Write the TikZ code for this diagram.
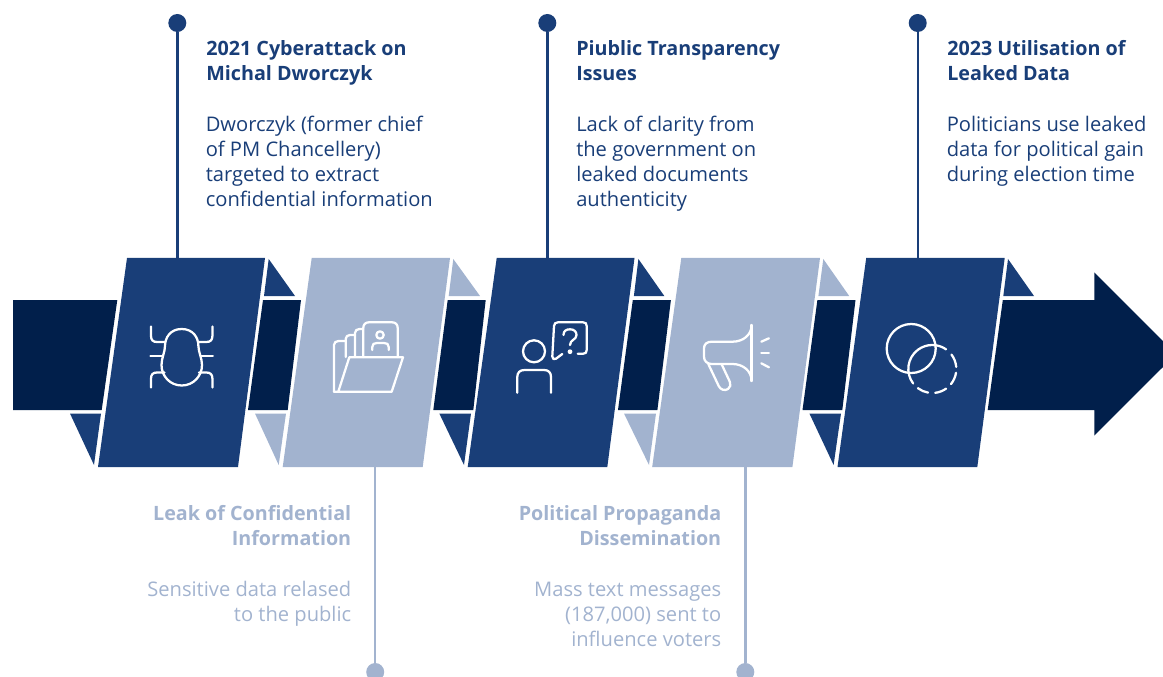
\documentclass[tikz,border=0pt]{standalone}
\usepackage{fontspec}
\setmainfont{Open Sans}
\definecolor{blueA}{HTML}{193E78}
\definecolor{navyA}{HTML}{011F4B}
\definecolor{lightA}{HTML}{A2B3CF}
\tikzset{
  panelA/.style={fill=blueA,draw=none},
  panelB/.style={fill=lightA,draw=none},
  bandA/.style={fill=navyA,draw=none},
  icon/.style={draw=white,line width=1.7pt,line cap=round,line join=round},
  dotA/.style={circle,fill=blueA,minimum size=13.5pt,inner sep=0pt},
  dotB/.style={circle,fill=lightA,minimum size=13.5pt,inner sep=0pt},
  stemA/.style={draw=blueA,line width=1.8pt},
  stemB/.style={draw=lightA,line width=1.8pt},
  txt/.style={inner sep=0pt,font=\fontsize{15.1}{18.75}\selectfont},
  headA/.style={txt,anchor=north west,align=left,text=blueA,font=\fontsize{14.8}{18.75}\selectfont\bfseries},
  bodyA/.style={txt,anchor=north west,align=left,text=blueA},
  headB/.style={txt,anchor=north east,align=right,text=lightA,font=\fontsize{14.8}{18.75}\selectfont\bfseries},
  bodyB/.style={txt,anchor=north east,align=right,text=lightA}
}
\begin{document}
\begin{tikzpicture}[x=0.75pt,y=-0.75pt]
\useasboundingbox (0,0) rectangle (1163,677);
\clip (0,0) rectangle (1163,677);
% stems and dots
\node[dotA] (d1) at (177.3,23) {};
\node[dotA] (d3) at (547.3,23) {};
\node[dotA] (d5) at (917.7,23) {};
\node[dotB] (d2) at (375.2,672) {};
\node[dotB] (d4) at (745.3,672) {};
\coordinate (p1) at (177.3,259);
\coordinate (p3) at (547.3,259);
\coordinate (p5) at (917.7,259);
\coordinate (p2) at (375.2,466);
\coordinate (p4) at (745.3,466);
\draw[stemA] (d1) -- (p1);
\draw[stemA] (d3) -- (p3);
\draw[stemA] (d5) -- (p5);
\draw[stemB] (d2) -- (p2);
\draw[stemB] (d4) -- (p4);
% bands
\fill[bandA] (13,300) -- (117.3,300) -- (101.7,410) -- (13,410) -- cycle;
\fill[bandA] (263,300) -- (301,300) -- (287.7,410) -- (248,410) -- cycle;
\fill[bandA] (447.7,300) -- (485.7,300) -- (473.3,410) -- (433.3,410) -- cycle;
\fill[bandA] (632.8,300) -- (670.9,300) -- (657.4,410) -- (618,410) -- cycle;
\fill[bandA] (817.4,300) -- (855.5,300) -- (842.3,410) -- (802.5,410) -- cycle;
\fill[bandA] (1002.8,300) -- (1094.4,300) -- (1094.4,272.5) -- (1176,354) -- (1094.4,435.5) -- (1094.4,410) -- (987.7,410) -- cycle;
% top triangles
\fill[panelA] (268.7,259) -- (295,296) -- (264,296) -- cycle;
\fill[panelB] (453.3,259) -- (480,296) -- (448.7,296) -- cycle;
\fill[panelA] (638.4,259) -- (664.3,296) -- (633.9,296) -- cycle;
\fill[panelB] (823.3,259) -- (849.2,296) -- (818.4,296) -- cycle;
\fill[panelA] (1008,259) -- (1034,296) -- (1003.3,296) -- cycle;
% bottom triangles
\fill[panelA] (70,413.5) -- (101,413.5) -- (94,465) -- cycle;
\fill[panelB] (255,413.5) -- (286,413.5) -- (278.7,465) -- cycle;
\fill[panelA] (439.3,413.5) -- (471,413.5) -- (464,465) -- cycle;
\fill[panelB] (624,413.5) -- (656,413.5) -- (649,465) -- cycle;
\fill[panelA] (809.4,413.5) -- (841,413.5) -- (833.6,465) -- cycle;
% panels
\fill[panelA] (127,258) -- (265,258) -- (238,467) -- (98,467) -- cycle;
\fill[panelB] (311.7,258) -- (450,258) -- (422.7,467) -- (282.7,467) -- cycle;
\fill[panelA] (496.7,258) -- (634.5,258) -- (607.3,467) -- (467.7,467) -- cycle;
\fill[panelB] (681.3,258) -- (820,258) -- (792.4,467) -- (652.2,467) -- cycle;
\fill[panelA] (866.2,258) -- (1004.7,258) -- (977.3,467) -- (837.5,467) -- cycle;
% bug
\draw[icon] (181.7,329) .. controls (170,329) and (165,338) .. (165,346) .. controls (165,352) and (161.5,358) .. (161.5,365) .. controls (161.5,376) and (170,385.5) .. (181.7,385.5) .. controls (193.4,385.5) and (202,376) .. (202,365) .. controls (202,358) and (198.4,352) .. (198.4,346) .. controls (198.4,338) and (193.4,329) .. (181.7,329) -- cycle;
\draw[icon] (151,326.5) -- (151,336) .. controls (151,340) and (153,342) .. (157,342) -- (165,342);
\draw[icon] (212.4,326.5) -- (212.4,336) .. controls (212.4,340) and (210.4,342) .. (206.4,342) -- (198.4,342);
\draw[icon] (150.5,356) -- (162.5,356);
\draw[icon] (201,356) -- (212.9,356);
\draw[icon] (151,387.5) -- (151,378.5) .. controls (151,374.5) and (153,372.5) .. (157,372.5) -- (164.5,372.5);
\draw[icon] (212.4,387.5) -- (212.4,378.5) .. controls (212.4,374.5) and (210.4,372.5) .. (206.4,372.5) -- (199,372.5);
% folder
\draw[icon] (334,391.7) -- (391.7,391.7) -- (403,357.3) -- (349.3,357.3) -- (338.5,391);
\draw[icon] (334,391.7) -- (334,345) .. controls (334,342.5) and (336,341) .. (338.5,341) -- (345.7,341);
\draw[icon] (345.7,357) -- (345.7,339) .. controls (345.7,336.5) and (347.5,335) .. (350,335) -- (355,335);
\draw[icon] (355,357) -- (355,333) .. controls (355,330.5) and (357,329) .. (359.5,329) -- (363.3,329);
\draw[icon] (363.3,357) -- (363.3,328) .. controls (363.3,324.5) and (365.5,322.3) .. (369,322.3) -- (392,322.3) .. controls (395.5,322.3) and (397.7,324.5) .. (397.7,328) -- (397.7,357);
\draw[icon] (380,335) circle[radius=3.7];
\draw[icon] (372.3,350) -- (372.3,347) .. controls (372.3,344) and (374,343) .. (377,343) -- (384,343) .. controls (387,343) and (388.7,344) .. (388.7,347) -- (388.7,350);
% person with question
\draw[icon] (534,351.3) circle[radius=11];
\draw[icon] (517.3,392.7) -- (517.3,377) .. controls (517.3,372.5) and (520,370) .. (524.5,370) -- (544,370) .. controls (548.5,370) and (551,372.5) .. (551,377) -- (551,392.7);
\draw[icon] (577.7,353.7) -- (583.3,353.7) .. controls (585.5,353.7) and (586.7,352.5) .. (586.7,350) -- (586.7,326) .. controls (586.7,323.5) and (585.5,322.3) .. (583,322.3) -- (558,322.3) .. controls (555.5,322.3) and (554.3,323.5) .. (554,326) -- (552.3,356.5) .. controls (552.3,359) and (554,360) .. (556,358.7) -- (562.3,354);
\draw[icon] (563.5,335) .. controls (563.5,331) and (566,329.3) .. (570,329.3) .. controls (574,329.3) and (576.5,331.5) .. (576.5,335) .. controls (576.5,340) and (570,339.5) .. (570,345);
\fill[white] (570,351.7) circle[radius=2.4];
% megaphone
\draw[icon] (751.6,325) -- (751.6,381);
\draw[icon] (751.6,325) .. controls (751.6,335) and (743,341.7) .. (732.5,341.7) -- (711.8,341.7) .. controls (707,341.7) and (704,344) .. (704,348.3) -- (704,356.7) .. controls (704,361) and (707,364) .. (711.8,364) -- (732.5,364) .. controls (743,364) and (751.6,371) .. (751.6,381);
\draw[icon] (708.3,364) -- (718.7,386) .. controls (720.5,390) and (725,391) .. (728,389) .. controls (730.5,387.5) and (731,384.5) .. (729.8,381.7) -- (721.5,364);
\draw[icon] (761.3,341.7) -- (768.9,338.3);
\draw[icon] (761.3,353) -- (768.9,353);
\draw[icon] (761.3,363.3) -- (768.9,367.3);
% circles (y axis points down, so angles are negated)
\draw[icon] (911.2,348.5) circle[radius=24.5];
\draw[icon] (932.3,369) ++(-217:24) arc[start angle=-217,end angle=-55,radius=24];
\draw[icon] (932.3,369) ++(-37:24) arc[start angle=-37,end angle=-5,radius=24];
\draw[icon] (932.3,369) ++(9:24) arc[start angle=9,end angle=39,radius=24];
\draw[icon] (932.3,369) ++(55:24) arc[start angle=55,end angle=83,radius=24];
\draw[icon] (932.3,369) ++(100:24) arc[start angle=100,end angle=127,radius=24];
% texts
\node[headA] (t1) at (206,38) {\strut 2021 Cyberattack on\\Michal Dworczyk};
\node[bodyA] (b1) at (205.5,113.5) {\strut Dworczyk (former chief\\of PM Chancellery)\\targeted to extract\\confidential information};
\node[headA] (t3) at (576,38) {\strut Piublic Transparency\\Issues};
\node[bodyA] (b3) at (576,113.5) {\strut Lack of clarity from\\the government on\\leaked documents\\authenticity};
\node[headA] (t5) at (947,38) {\strut 2023 Utilisation of\\Leaked Data};
\node[bodyA] (b5) at (946.5,113.5) {\strut Politicians use leaked\\data for political gain\\during election time};
\node[headB] (t2) at (351.5,503) {\strut Leak of Confidential\\Information};
\node[bodyB] (b2) at (351.5,578.5) {\strut Sensitive data relased\\to the public};
\node[headB] (t4) at (721.5,503) {\strut Political Propaganda\\Dissemination};
\node[bodyB] (b4) at (721.5,578.5) {\strut Mass text messages\\(187,000) sent to\\influence voters};
\end{tikzpicture}
\end{document}
